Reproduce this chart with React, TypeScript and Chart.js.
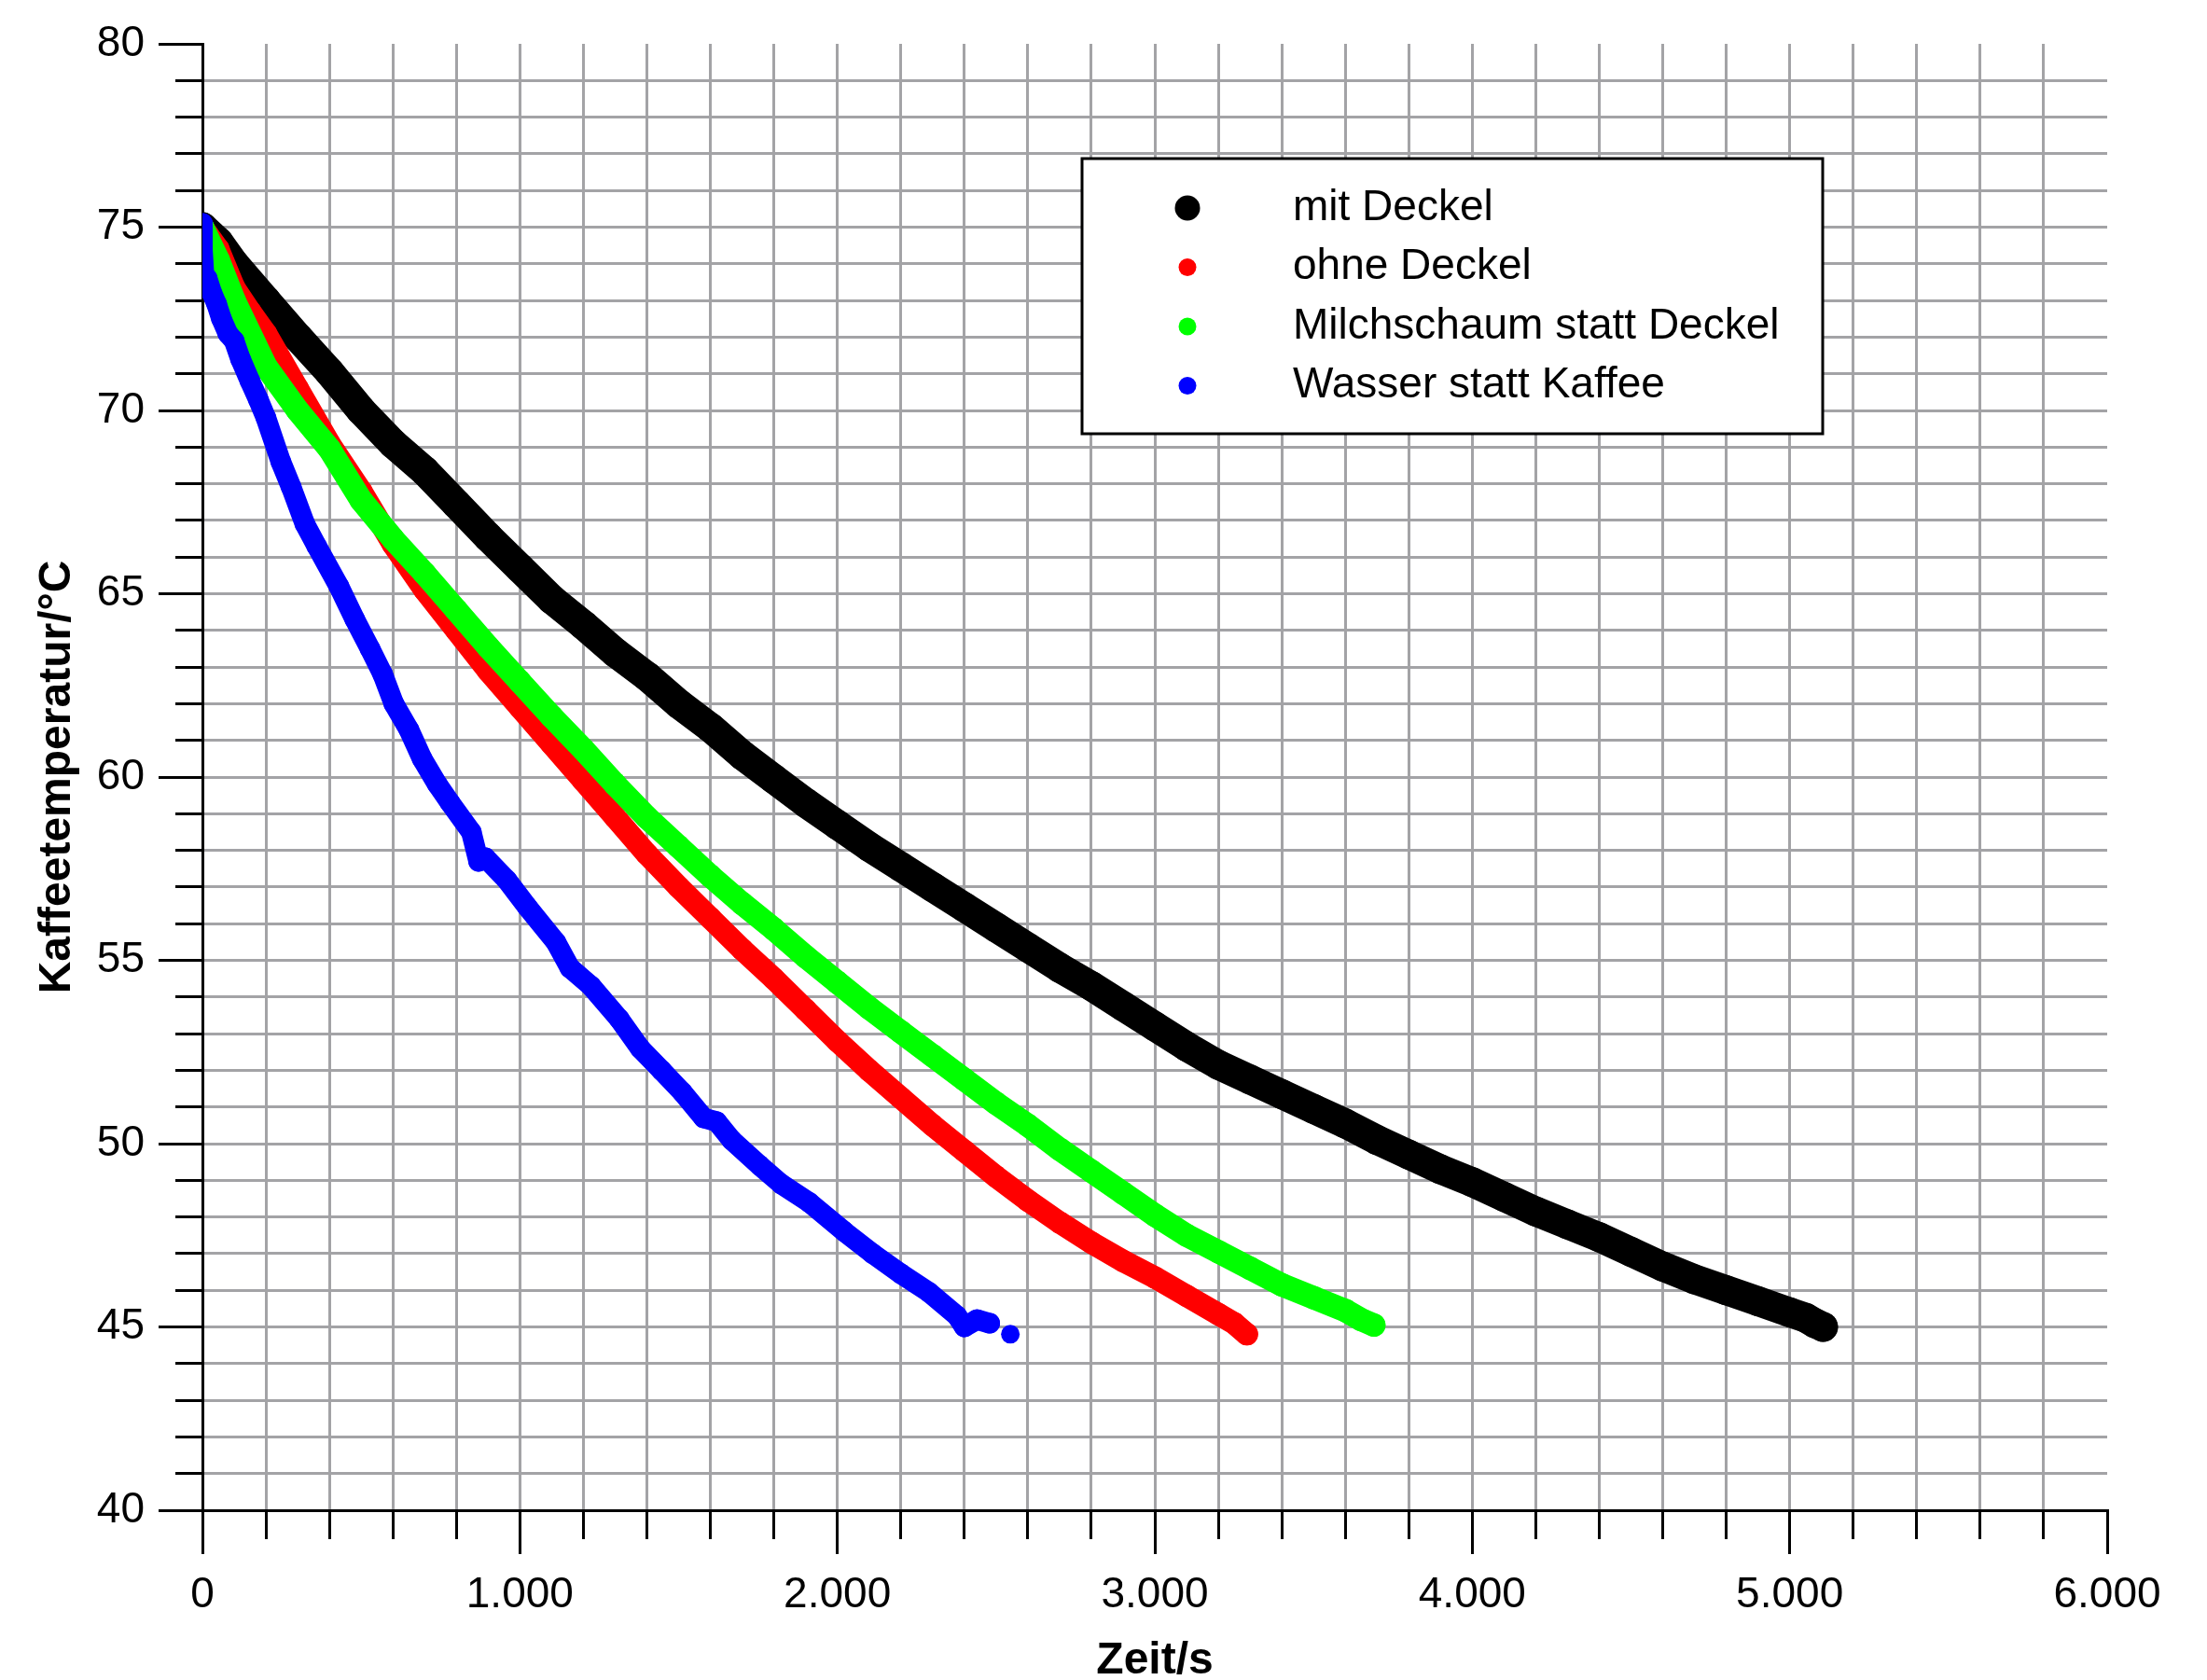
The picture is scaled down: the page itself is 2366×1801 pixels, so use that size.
import { useEffect, useRef } from 'react';
import { Chart, registerables } from 'chart.js';

Chart.register(...registerables);

// ---------- data ----------
const xTickValues = [0, 1000, 2000, 3000, 4000, 5000, 6000];
const yTickValues = [40, 45, 50, 55, 60, 65, 70, 75, 80];

const timeMitDeckel = [0, 50, 100, 200, 300, 400, 500, 600, 700, 800, 900, 1000, 1100, 1200, 1300, 1400, 1500, 1600, 1700, 1800, 1900, 2000, 2100, 2200, 2300, 2400, 2500, 2600, 2700, 2800, 2900, 3000, 3100, 3200, 3300, 3400, 3500, 3600, 3700, 3800, 3900, 4000, 4100, 4200, 4300, 4400, 4500, 4600, 4700, 4800, 4900, 5000, 5050, 5080, 5105];
const tempMitDeckel = [75.0, 74.6, 74.0, 73.0, 72.0, 71.05, 70.0, 69.1, 68.35, 67.45, 66.55, 65.7, 64.85, 64.15, 63.4, 62.75, 62.0, 61.35, 60.6, 59.95, 59.3, 58.7, 58.1, 57.55, 57.0, 56.45, 55.9, 55.35, 54.8, 54.3, 53.75, 53.2, 52.65, 52.15, 51.75, 51.35, 50.95, 50.55, 50.1, 49.7, 49.3, 48.95, 48.55, 48.15, 47.8, 47.45, 47.05, 46.65, 46.3, 46.0, 45.7, 45.4, 45.25, 45.1, 45.0];

const timeOhneDeckel = [0, 50, 100, 150, 200, 300, 400, 500, 600, 700, 800, 900, 1000, 1100, 1200, 1300, 1400, 1500, 1600, 1700, 1800, 1900, 2000, 2100, 2200, 2300, 2400, 2500, 2600, 2700, 2800, 2900, 3000, 3100, 3200, 3250, 3290];
const tempOhneDeckel = [75.0, 74.4, 73.35, 72.7, 72.1, 70.6, 69.1, 67.8, 66.35, 65.1, 64.0, 62.9, 61.9, 60.9, 59.9, 58.9, 57.9, 57.0, 56.15, 55.3, 54.5, 53.65, 52.8, 52.0, 51.25, 50.5, 49.8, 49.1, 48.45, 47.85, 47.3, 46.8, 46.35, 45.85, 45.35, 45.1, 44.8];

const timeMilchschaum = [0, 50, 100, 200, 300, 400, 500, 600, 700, 800, 900, 1000, 1100, 1200, 1300, 1400, 1500, 1600, 1700, 1800, 1900, 2000, 2100, 2200, 2300, 2400, 2500, 2600, 2700, 2800, 2900, 3000, 3100, 3200, 3300, 3400, 3500, 3600, 3650, 3690];
const tempMilchschaum = [75.0, 74.1, 73.0, 71.2, 70.0, 68.95, 67.55, 66.5, 65.55, 64.55, 63.55, 62.6, 61.65, 60.75, 59.8, 58.9, 58.1, 57.3, 56.55, 55.85, 55.1, 54.4, 53.7, 53.05, 52.4, 51.75, 51.1, 50.5, 49.85, 49.25, 48.65, 48.05, 47.5, 47.05, 46.6, 46.15, 45.8, 45.45, 45.2, 45.05];

const timeWasser = [0, 0, 5, 15, 30, 45, 60, 80, 100, 120, 150, 176, 200, 247, 280, 323, 360, 430, 480, 528, 568, 603, 650, 692, 740, 780, 847, 870, 891, 958, 1024, 1113, 1157, 1224, 1313, 1379, 1446, 1512, 1579, 1620, 1667, 1756, 1823, 1911, 2022, 2111, 2200, 2288, 2377, 2400, 2440, 2480];
const tempWasser = [75.1, 74.4, 73.7, 73.6, 73.2, 72.9, 72.5, 72.1, 71.9, 71.4, 70.8, 70.3, 69.8, 68.6, 67.9, 66.9, 66.3, 65.2, 64.3, 63.5, 62.8, 62.0, 61.3, 60.5, 59.8, 59.3, 58.5, 57.7, 57.8, 57.2, 56.45, 55.5, 54.8, 54.3, 53.4, 52.6, 52.0, 51.4, 50.7, 50.6, 50.1, 49.4, 48.9, 48.4, 47.6, 47.0, 46.45, 45.95, 45.3, 45.0, 45.2, 45.1];
const timeWasserLast = [2545];
const tempWasserLast = [44.8];

// ---------- styling ----------
const FONT = "'Liberation Sans', Arial, Helvetica, sans-serif";
const GRID = '#a3a3a6';
const CLEAR = 'rgba(0,0,0,0)';

const fmtThousands = (v: number) =>
  v === 0 ? '0' : `${Math.floor(v / 1000)}.${String(v % 1000).padStart(3, '0')}`;

const pts = (t: number[], T: number[]) => t.map((x, i) => ({ x, y: T[i] }));

function lineSet(label: string, color: string, t: number[], T: number[], width: number, order: number, legendRadius: number, inLegend = true) {
  return {
    label,
    data: pts(t, T),
    showLine: true,
    borderColor: color,
    backgroundColor: color,
    borderWidth: width,
    borderCapStyle: 'round',
    borderJoinStyle: 'round',
    pointRadius: width / 2,
    pointBorderWidth: 0,
    pointHoverRadius: width / 2,
    tension: 0,
    order,
    legendRadius,
    inLegend,
  } as any;
}

const legendPlugin = {
  id: 'boxLegend',
  afterDatasetsDraw(chart: any) {
    const ctx = chart.ctx as CanvasRenderingContext2D;
    const L = 1160, T = 170, R = 1954, B = 465;
    ctx.save();
    ctx.fillStyle = '#ffffff';
    ctx.fillRect(L, T, R - L, B - T);
    ctx.lineWidth = 3;
    ctx.strokeStyle = '#000000';
    ctx.strokeRect(L, T, R - L, B - T);
    const items = chart.data.datasets.filter((d: any) => d.inLegend);
    items.forEach((d: any, i: number) => {
      const y = 223 + i * 63.5;
      ctx.beginPath();
      ctx.arc(1273, y, d.legendRadius, 0, Math.PI * 2);
      ctx.fillStyle = d.borderColor;
      ctx.fill();
      ctx.font = `46px ${FONT}`;
      ctx.fillStyle = '#000000';
      ctx.textAlign = 'left';
      ctx.textBaseline = 'middle';
      ctx.fillText(d.label, 1386, y);
    });
    ctx.restore();
  },
};

export default function App() {
  const ref = useRef<HTMLCanvasElement>(null);

  useEffect(() => {
    if (!ref.current) return;
    const datasets = [
      lineSet('mit Deckel', '#000000', timeMitDeckel, tempMitDeckel, 32, 4, 13.5),
      lineSet('ohne Deckel', '#ff0000', timeOhneDeckel, tempOhneDeckel, 24, 3, 9.5),
      lineSet('Milchschaum statt Deckel', '#00ff00', timeMilchschaum, tempMilchschaum, 25, 2, 9.5),
      lineSet('Wasser statt Kaffee', '#0000ff', timeWasser, tempWasser, 22, 1, 9.5),
      { ...lineSet('Wasser statt Kaffee', '#0000ff', timeWasserLast, tempWasserLast, 20, 0, 9.5, false), showLine: false },
    ];

    const chart = new Chart(ref.current, {
      type: 'scatter',
      data: { datasets },
      plugins: [legendPlugin],
      options: {
        animation: false,
        responsive: false,
        devicePixelRatio: 1,
        layout: { padding: { left: 0, right: 107, top: 47, bottom: 0 } },
        plugins: { legend: { display: false }, tooltip: { enabled: false } },
        scales: {
          x: {
            type: 'linear',
            min: 0,
            max: 6000,
            afterFit: (s: any) => { s.height = 182; },
            ticks: {
              stepSize: 200,
              maxTicksLimit: 100,
              autoSkip: false,
              maxRotation: 0,
              minRotation: 0,
              padding: 17,
              color: '#000',
              font: { family: FONT, size: 46 },
              callback: (v: any) => (xTickValues.includes(Number(v)) ? fmtThousands(Number(v)) : ''),
            },
            grid: {
              color: (c: any) => (c.tick && (c.tick.value === 0 || c.tick.value === 6000) ? CLEAR : GRID),
              lineWidth: 3,
              tickLength: 47,
              tickColor: '#000',
              tickWidth: 3,
              tickBorderDash: (c: any) => (c.tick && !xTickValues.includes(c.tick.value) ? [29, 200] : []),
              tickBorderDashOffset: 0,
            },
            border: { display: true, color: '#000', width: 3 },
            title: {
              display: true,
              text: 'Zeit/s',
              color: '#000',
              font: { family: FONT, size: 48, weight: 'bold', lineHeight: 0.8 },
              padding: { top: 0, bottom: 1 },
            },
          },
          y: {
            type: 'linear',
            min: 40,
            max: 80,
            afterFit: (s: any) => { s.width = 217; },
            ticks: {
              stepSize: 1,
              maxTicksLimit: 100,
              autoSkip: false,
              padding: 15,
              color: '#000',
              font: { family: FONT, size: 46 },
              callback: (v: any) => (yTickValues.includes(Number(v)) ? String(v) : ''),
            },
            grid: {
              color: (c: any) => (c.tick && (c.tick.value === 80 || c.tick.value === 40) ? CLEAR : GRID),
              lineWidth: 3,
              tickLength: 47,
              tickColor: '#000',
              tickWidth: 3,
              tickBorderDash: (c: any) => (c.tick && !yTickValues.includes(c.tick.value) ? [29, 200] : []),
              tickBorderDashOffset: (c: any) => (c.tick && !yTickValues.includes(c.tick.value) ? 211 : 0),
            },
            border: { display: true, color: '#000', width: 3 },
            title: {
              display: true,
              text: 'Kaffeetemperatur/°C',
              color: '#000',
              font: { family: FONT, size: 48, weight: 'bold', lineHeight: 0.8 },
              padding: { top: 43, bottom: 0 },
            },
          },
        },
      } as any,
    });
    return () => chart.destroy();
  }, []);

  return (
    <div style={{ position: 'fixed', left: 0, top: 0, width: 2366, height: 1801, background: '#ffffff' }}>
      <canvas ref={ref} width={2366} height={1801} style={{ display: 'block', width: 2366, height: 1801 }} />
    </div>
  );
}
